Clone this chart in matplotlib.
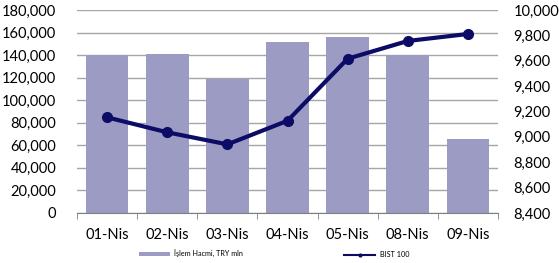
import matplotlib
matplotlib.use("Agg")
import matplotlib.pyplot as plt
from matplotlib.lines import Line2D
from matplotlib.patches import Patch
from matplotlib.ticker import FuncFormatter, MultipleLocator

categories = ["01-Nis", "02-Nis", "03-Nis", "04-Nis", "05-Nis", "08-Nis", "09-Nis"]
volume = [140000, 141000, 118500, 151800, 156300, 140000, 66000]
bist100 = [9154, 9036, 8941, 9127, 9616, 9756, 9811]
bar_label = "İşlem Hacmi, TRY mln"
line_label = "BIST 100"

plt.rcParams['font.family'] = ['Lato', 'DejaVu Sans']

fig = plt.figure(figsize=(5.59, 2.63), dpi=100)
ax = fig.add_axes([77/559, 1-213/263, (498-77)/559, (213-10)/263])
x = list(range(len(categories)))
bar_color = "#9B9BC3"
line_color = "#0C0C66"

ax.bar(x, volume, width=0.71, color=bar_color, zorder=2)
ax.set_ylim(0, 180000)
ax.set_xlim(-0.5, len(categories) - 0.5)
ax.yaxis.set_major_locator(MultipleLocator(20000))
ax.yaxis.set_major_formatter(FuncFormatter(lambda v, p: f"{int(v):,}"))
ax.grid(axis='y', color='#A6A6A6', linewidth=1.0, zorder=0)
ax.set_axisbelow(True)
for s in ['left', 'right', 'top']:
    ax.spines[s].set_visible(False)
ax.spines['bottom'].set_color('#7F7F7F')
ax.set_xticks(x)
ax.set_xticklabels(categories, fontsize=10.5)
ax.set_xticks([i - 0.5 for i in range(len(categories) + 1)], minor=True)
ax.tick_params(axis='x', which='major', length=0, pad=11)
ax.tick_params(axis='x', which='minor', length=4, color='#7F7F7F', direction='out')
ax.tick_params(axis='y', length=0, labelsize=10.5, pad=15)

ax2 = ax.twinx()
ax2.plot(x, bist100, color=line_color, linewidth=3, marker='o', markersize=7, zorder=3)
ax2.set_ylim(8400, 10000)
ax2.yaxis.set_major_locator(MultipleLocator(200))
ax2.yaxis.set_major_formatter(FuncFormatter(lambda v, p: f"{int(v):,}"))
for s in ['left', 'right', 'top', 'bottom']:
    ax2.spines[s].set_visible(False)
ax2.tick_params(axis='y', length=0, labelsize=10.5, pad=11)

handles = [Patch(facecolor=bar_color, edgecolor='none'),
           Line2D([0], [0], color=line_color, linewidth=1.5, marker='o', markersize=2)]
fig.legend(handles, [bar_label, line_label], loc='center', bbox_to_anchor=(0.49, 1-254/263),
           ncol=2, frameon=False, fontsize=5.2, handlelength=4.3, handleheight=0.5,
           columnspacing=14, handletextpad=0.6)

fig.savefig("out.png", dpi=100)
